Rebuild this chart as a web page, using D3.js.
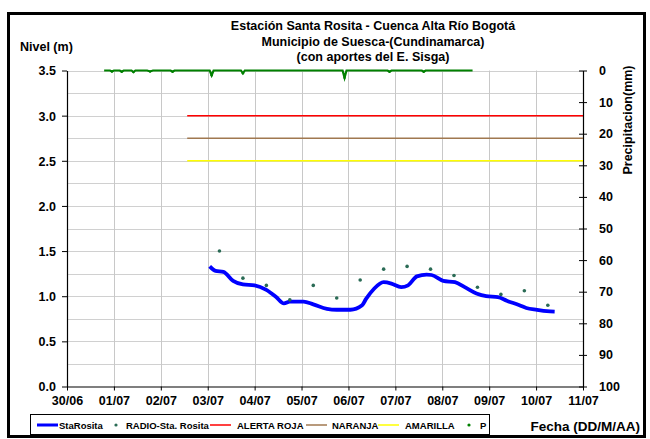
<!DOCTYPE html>
<html>
<head>
<meta charset="utf-8">
<script src="https://cdn.jsdelivr.net/npm/d3@7"></script>
<style>
  html, body { margin: 0; padding: 0; background: #fff; }
  svg text { font-family: Arial, "Liberation Sans", sans-serif; font-weight: bold; }
</style>
</head>
<body>
<svg id="chart" width="650" height="439"></svg>
<script>
// ---- data ----
const titleLines = ["Estación Santa Rosita - Cuenca Alta Río Bogotá",
                    "Municipio de Suesca-(Cundinamarca)",
                    "(con aportes del  E. Sisga)"];
const xDomain = ["2010-06-30T00:00", "2010-07-11T00:00"];
const levelTicks = [0, 0.5, 1.0, 1.5, 2.0, 2.5, 3.0, 3.5];
const precipTicks = [0, 10, 20, 30, 40, 50, 60, 70, 80, 90, 100];

// StaRosita level (m)
const staTimes = ["07-03T01:00","07-03T04:00","07-03T08:00","07-03T13:00","07-03T18:00","07-04T00:00",
  "07-04T06:00","07-04T11:00","07-04T15:00","07-04T18:00","07-05T01:00","07-05T06:00","07-05T13:00",
  "07-05T18:00","07-06T01:00","07-06T07:00","07-06T09:00","07-06T13:00","07-06T18:00","07-06T22:00",
  "07-07T03:00","07-07T06:30","07-07T11:00","07-07T16:00","07-07T18:30","07-08T00:30","07-08T06:30",
  "07-08T11:30","07-08T17:30","07-08T22:30","07-09T04:30","07-09T09:00","07-09T15:30","07-09T19:00",
  "07-10T00:30","07-10T05:30","07-10T09:30"];
const staValues = [1.33,1.28,1.27,1.17,1.13,1.12,1.07,0.99,0.92,0.94,0.94,0.91,0.86,0.85,0.85,0.90,
  0.97,1.08,1.155,1.14,1.10,1.12,1.22,1.24,1.235,1.17,1.155,1.10,1.03,1.00,0.99,0.95,0.90,0.87,0.85,0.835,0.83];

// RADIO-Sta. Rosita readings (m)
const radioTimes = ["07-03T06:00","07-03T18:00","07-04T06:00","07-04T18:00","07-05T06:00","07-05T18:00",
  "07-06T06:00","07-06T18:00","07-07T06:00","07-07T18:00","07-08T06:00","07-08T18:00","07-09T06:00",
  "07-09T18:00","07-10T06:00"];
const radioValues = [1.50,1.20,1.12,0.96,1.12,0.98,1.18,1.30,1.33,1.30,1.23,1.10,1.02,1.06,0.90];

// Alert thresholds (m)
const alertStart = "07-02T13:30", alertEnd = "07-11T00:00";
const alertNames = ["ALERTA ROJA", "NARANJA", "AMARILLA"];
const alertValues = [3.0, 2.75, 2.5];
const alertColors = ["#ff0000", "#a07850", "#ffff00"];

// Precipitation P (mm)
const pTimes = ["06-30T19:00","06-30T22:00","06-30T23:00","07-01T00:00","07-01T03:00","07-01T04:00","07-01T05:00",
  "07-01T09:00","07-01T10:00","07-01T11:00","07-01T17:00","07-01T18:30","07-01T20:00","07-02T05:00","07-02T06:00",
  "07-02T07:00","07-03T01:00","07-03T02:00","07-03T03:00","07-03T17:00","07-03T18:00","07-03T19:00",
  "07-05T21:00","07-05T22:00","07-05T23:00","07-06T20:00","07-06T21:00","07-06T22:00","07-07T13:30",
  "07-07T14:30","07-07T15:30","07-08T15:30"];
const pValues = [0,0,0.3,0,0,0.4,0,0,0.5,0,0,0.3,0,0,0.4,0,0,1.5,0,0,0.9,0,0,2.3,0,0,0.4,0,0,0.4,0,0];

// ---- chart ----
const svg = d3.select("#chart");
const parse = d3.timeParse("%Y-%m-%dT%H:%M");
const pt = s => parse("2010-" + s);

const L = 67, R = 583, T = 70.5, B = 386.5;
const x = d3.scaleTime().domain(xDomain.map(parse)).range([L, R]);
const y = d3.scaleLinear().domain([0, 3.5]).range([B, T]);
const y2 = d3.scaleLinear().domain([0, 100]).range([T, B]);

// outer frame
svg.append("rect").attr("x", 8.5).attr("y", 13.5).attr("width", 636).attr("height", 423)
  .attr("fill", "none").attr("stroke", "#000").attr("stroke-width", 3);

// gridlines
const g = svg.append("g");
g.selectAll(".hg").data(d3.range(0.25, 3.51, 0.25)).join("line")
  .attr("x1", L).attr("x2", R).attr("y1", d => Math.round(y(d)) + 0.5).attr("y2", d => Math.round(y(d)) + 0.5)
  .attr("stroke", "#d0d0d0").attr("stroke-width", 1);
g.selectAll(".vg").data(x.ticks(d3.timeDay.every(1)).slice(1, -1)).join("line")
  .attr("x1", d => Math.round(x(d)) + 0.5).attr("x2", d => Math.round(x(d)) + 0.5).attr("y1", T).attr("y2", B)
  .attr("stroke", "#c8c8c8").attr("stroke-width", 1);

// axes
const fmtDay = d3.timeFormat("%d/%m");
const xAxis = svg.append("g").attr("transform", `translate(0,${B})`)
  .call(d3.axisBottom(x).ticks(d3.timeDay.every(1)).tickFormat(fmtDay).tickSizeInner(4).tickSizeOuter(0).tickPadding(6));
const yAxis = svg.append("g").attr("transform", `translate(${L},0)`)
  .call(d3.axisLeft(y).tickValues(levelTicks).tickFormat(d3.format(".1f")).tickSizeInner(5).tickSizeOuter(0).tickPadding(6));
const y2Axis = svg.append("g").attr("transform", `translate(${R},0)`)
  .call(d3.axisRight(y2).tickValues(precipTicks).tickFormat(d3.format("d")).tickSizeInner(4).tickSizeOuter(0).tickPadding(12));
y2Axis.selectAll(".tick line").attr("x1", -4);
[xAxis, yAxis, y2Axis].forEach(a => {
  a.select(".domain").attr("stroke", "#000").attr("stroke-width", 1.2);
  a.selectAll(".tick line").attr("stroke", "#000");
  a.selectAll("text").attr("font-size", 12.5).attr("fill", "#000")
   .style("font-family", "Arial, 'Liberation Sans', sans-serif").style("font-weight", "bold");
});
yAxis.selectAll("text").attr("dy", "0.35em");

// alert lines
alertValues.forEach((v, i) => {
  svg.append("line").attr("x1", x(pt(alertStart))).attr("x2", x(pt(alertEnd)))
    .attr("y1", y(v)).attr("y2", y(v)).attr("stroke", alertColors[i]).attr("stroke-width", 1.5);
});

// precipitation
const pData = pTimes.map((t, i) => ({t: pt(t), v: pValues[i]}));
svg.append("path").datum(pData)
  .attr("d", d3.line().x(d => x(d.t)).y(d => y2(d.v)))
  .attr("fill", "none").attr("stroke", "#008000").attr("stroke-width", 2.2);
svg.append("g").selectAll("circle").data(pData.filter(d => d.v > 0)).join("circle")
  .attr("cx", d => x(d.t)).attr("cy", d => y2(d.v)).attr("r", 1.2).attr("fill", "#008000");

// StaRosita line
const staData = staTimes.map((t, i) => ({t: pt(t), v: staValues[i]}));
svg.append("path").datum(staData)
  .attr("d", d3.line().x(d => x(d.t)).y(d => y(d.v)).curve(d3.curveMonotoneX))
  .attr("fill", "none").attr("stroke", "#0000ff").attr("stroke-width", 3.8).attr("stroke-linejoin", "round");

// RADIO points
const radioData = radioTimes.map((t, i) => ({t: pt(t), v: radioValues[i]}));
svg.append("g").selectAll("circle").data(radioData).join("circle")
  .attr("cx", d => x(d.t)).attr("cy", d => y(d.v)).attr("r", 1.8).attr("fill", "#2a6b55");

// titles
titleLines.forEach((s, i) => {
  svg.append("text").attr("x", 373).attr("y", 30 + i * 15.5).attr("text-anchor", "middle")
    .attr("font-size", 12.5).text(s);
});
svg.append("text").attr("x", 20).attr("y", 51).attr("font-size", 12.5).text("Nivel (m)");
svg.append("text").attr("transform", "translate(632,120) rotate(-90)").attr("text-anchor", "middle")
  .attr("font-size", 12.5).text("Precipitacion(mm)");
svg.append("text").attr("x", 640).attr("y", 431).attr("text-anchor", "end").attr("font-size", 13.5).text("Fecha (DD/M/AA)");

// legend
const lg = svg.append("g");
lg.append("rect").attr("x", 30.5).attr("y", 414.5).attr("width", 459).attr("height", 20)
  .attr("fill", "#fff").attr("stroke", "#000").attr("stroke-width", 1);
const ly = 425;
const items = [
  {type: "line", color: "#0000ff", w: 3, x: 37, label: "StaRosita", tx: 59},
  {type: "dot", color: "#2a6b55", x: 116, label: "RADIO-Sta. Rosita", tx: 126},
  {type: "line", color: alertColors[0], w: 1.5, x: 210, label: alertNames[0], tx: 237},
  {type: "line", color: alertColors[1], w: 1.5, x: 306, label: alertNames[1], tx: 332},
  {type: "line", color: alertColors[2], w: 1.5, x: 378, label: alertNames[2], tx: 405},
  {type: "dot", color: "#008000", x: 469, label: "P", tx: 480}
];
items.forEach(it => {
  if (it.type === "line") {
    lg.append("line").attr("x1", it.x).attr("x2", it.x + 21).attr("y1", ly).attr("y2", ly)
      .attr("stroke", it.color).attr("stroke-width", it.w);
  } else {
    lg.append("circle").attr("cx", it.x).attr("cy", ly).attr("r", 1.6).attr("fill", it.color);
  }
  lg.append("text").attr("x", it.tx).attr("y", ly + 3.5).attr("font-size", 9.5).text(it.label);
});
</script>
</body>
</html>
